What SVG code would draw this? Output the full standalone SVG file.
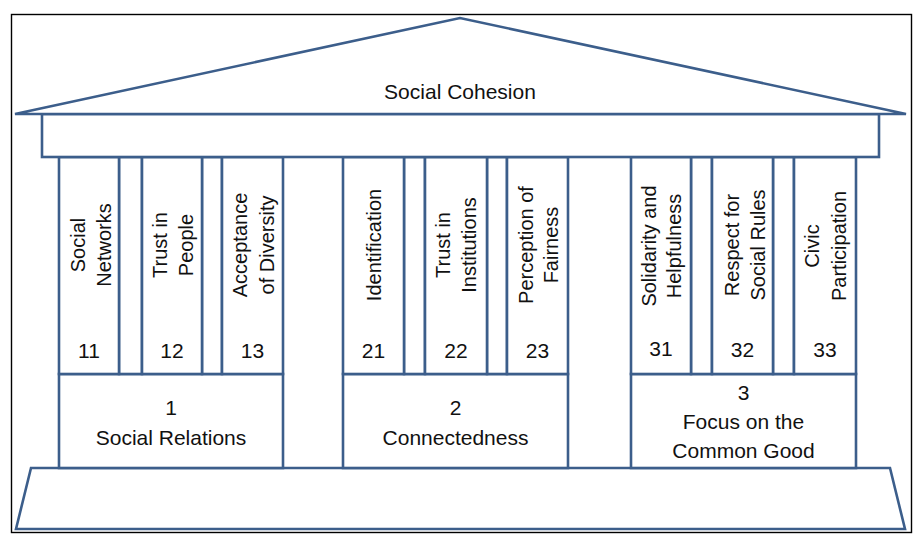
<svg xmlns="http://www.w3.org/2000/svg" width="920" height="539" viewBox="0 0 920 539">
<style>
.s{fill:#fff;stroke:#3C5E8B;stroke-width:2.6;stroke-linejoin:miter}
.t{font-family:"Liberation Sans",Arial,sans-serif;font-size:21px;fill:#111;text-anchor:middle}
.v{font-family:"Liberation Sans",Arial,sans-serif;font-size:20px;fill:#111;text-anchor:middle}
</style>
<rect x="0" y="0" width="920" height="539" fill="#fff"/>
<rect x="11.5" y="14.5" width="900" height="518" fill="#fff" stroke="#000" stroke-width="1.4"/>
<g id="platform"><polygon class="s" points="31,468 890,468 905,529 16,529"/></g>
<g id="group1">
<rect class="s" x="59" y="374" width="224" height="94"/>
<text class="t" x="171" y="415">1</text>
<text class="t" x="171" y="445">Social Relations</text>
</g>
<g id="group2">
<rect class="s" x="343" y="374" width="225" height="94"/>
<text class="t" x="455.5" y="415">2</text>
<text class="t" x="455.5" y="445">Connectedness</text>
</g>
<g id="group3">
<rect class="s" x="631" y="374" width="225" height="94"/>
<text class="t" x="743.5" y="400">3</text>
<text class="t" x="743.5" y="429">Focus on the</text>
<text class="t" x="743.5" y="458">Common Good</text>
</g>
<g id="gaps">
<rect class="s" x="119" y="157" width="23" height="217"/>
<rect class="s" x="202" y="157" width="20" height="217"/>
<rect class="s" x="404" y="157" width="21" height="217"/>
<rect class="s" x="487" y="157" width="20" height="217"/>
<rect class="s" x="691" y="157" width="21" height="217"/>
<rect class="s" x="773" y="157" width="21" height="217"/>
</g>
<g id="col11">
<rect class="s" x="59" y="157" width="60" height="217"/>
<text class="v" transform="translate(85,245) rotate(-90)">Social</text>
<text class="v" transform="translate(111,245) rotate(-90)">Networks</text>
<text class="t" x="89" y="358">11</text>
</g>
<g id="col12">
<rect class="s" x="142" y="157" width="60" height="217"/>
<text class="v" transform="translate(167,245) rotate(-90)">Trust in</text>
<text class="v" transform="translate(193,245) rotate(-90)">People</text>
<text class="t" x="172" y="358">12</text>
</g>
<g id="col13">
<rect class="s" x="222" y="157" width="61" height="217"/>
<text class="v" transform="translate(247,245) rotate(-90)">Acceptance</text>
<text class="v" transform="translate(274,245) rotate(-90)">of Diversity</text>
<text class="t" x="252.5" y="358">13</text>
</g>
<g id="col21">
<rect class="s" x="343" y="157" width="61" height="217"/>
<text class="v" transform="translate(381,245) rotate(-90)">Identification</text>
<text class="t" x="373.5" y="358">21</text>
</g>
<g id="col22">
<rect class="s" x="425" y="157" width="62" height="217"/>
<text class="v" transform="translate(450,245) rotate(-90)">Trust in</text>
<text class="v" transform="translate(476,245) rotate(-90)">Institutions</text>
<text class="t" x="456" y="358">22</text>
</g>
<g id="col23">
<rect class="s" x="507" y="157" width="61" height="217"/>
<text class="v" transform="translate(533,245) rotate(-90)">Perception of</text>
<text class="v" transform="translate(558,245) rotate(-90)">Fairness</text>
<text class="t" x="537.5" y="358">23</text>
</g>
<g id="col31">
<rect class="s" x="631" y="157" width="60" height="217"/>
<text class="v" transform="translate(656,246) rotate(-90)">Solidarity and</text>
<text class="v" transform="translate(681,246) rotate(-90)">Helpfulness</text>
<text class="t" x="661" y="356">31</text>
</g>
<g id="col32">
<rect class="s" x="712" y="157" width="61" height="217"/>
<text class="v" transform="translate(739,245) rotate(-90)">Respect for</text>
<text class="v" transform="translate(765,245) rotate(-90)">Social Rules</text>
<text class="t" x="742.5" y="357">32</text>
</g>
<g id="col33">
<rect class="s" x="794" y="157" width="62" height="217"/>
<text class="v" transform="translate(819,246) rotate(-90)">Civic</text>
<text class="v" transform="translate(846,246) rotate(-90)">Participation</text>
<text class="t" x="825" y="357">33</text>
</g>
<g id="entablature"><rect class="s" x="42" y="114" width="837" height="43"/></g>
<g id="roof">
<polygon class="s" points="15,114 460,18 906,114"/>
<text class="t" x="460" y="99">Social Cohesion</text>
</g>
</svg>
